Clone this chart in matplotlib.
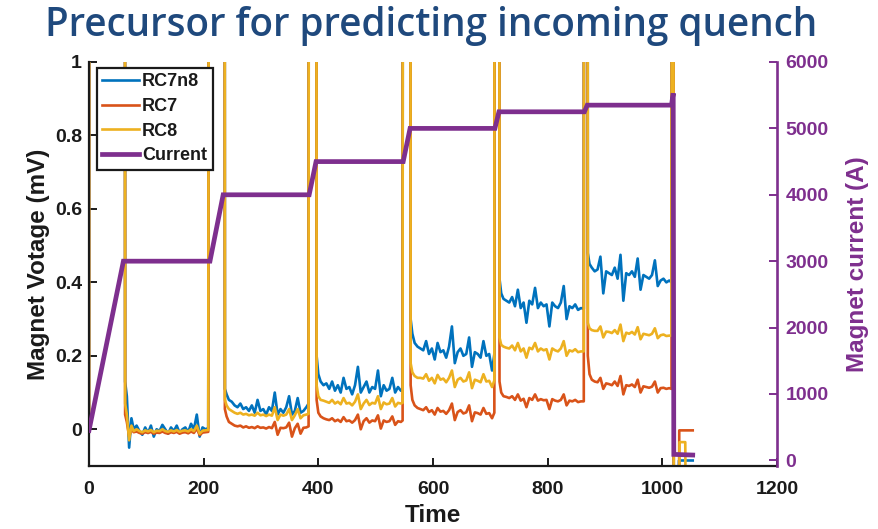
import matplotlib
matplotlib.use("Agg")
import matplotlib.pyplot as plt
from matplotlib import font_manager

# ---------------- data ----------------
OFF = 5.0  # inductive voltage during ramps (off scale)

# current profile (A)
cur_time = [0, 60, 211, 234, 384, 396, 548, 560, 708, 715, 864, 869, 1016, 1019, 1020, 1053]
cur_amp = [450, 3000, 3000, 4000, 4000, 4500, 4500, 5000, 5000, 5250, 5250, 5350, 5350, 5530, 90, 80]

# ramp windows where voltages are off scale
ramp_start = [1, 211, 384, 548, 708, 864]
ramp_end = [62, 236, 396, 560, 715, 869]

t0 = [0]
rc7n8_0 = [0.01]
rc7_0 = [0.0]
rc8_0 = [0.02]

t_p1 = [63, 66, 70, 74, 78, 83, 88, 93, 98, 103, 108, 113, 118, 123, 128, 133,
        138, 143, 148, 153, 158, 163, 168, 173, 178, 183, 188, 193, 198, 203, 208]
rc7n8_p1 = [0.13, 0.09, -0.05, 0.03, 0.0, 0.01, -0.005, -0.015, 0.005, -0.01, 0.01,
            -0.02, 0.0, -0.005, 0.012, 0.0, -0.012, 0.005, -0.005, 0.01, -0.01, 0.0,
            0.005, -0.008, 0.015, 0.0, 0.04, -0.02, 0.005, 0.0, 0.003]
rc7_p1 = [0.04, 0.02, -0.02, 0.0, -0.008, -0.006, -0.01, -0.012, -0.008, -0.01, -0.007,
          -0.012, -0.009, -0.01, -0.006, -0.01, -0.012, -0.008, -0.01, -0.007, -0.012,
          -0.009, -0.008, -0.011, -0.006, -0.01, 0.002, -0.016, -0.009, -0.008, -0.007]
rc8_p1 = [0.07, 0.04, -0.03, 0.01, -0.005, 0.0, -0.005, -0.008, -0.003, -0.006, -0.002,
          -0.008, -0.004, -0.005, 0.0, -0.005, -0.007, -0.003, -0.006, -0.002, -0.007,
          -0.004, -0.003, -0.006, 0.0, -0.005, 0.01, -0.012, -0.004, -0.003, -0.002]

t_p2 = [237, 240, 244, 249, 254, 259, 264, 269, 274, 279, 284, 289, 294, 299, 304, 309,
        314, 319, 324, 329, 334, 339, 344, 349, 354, 359, 364, 369, 374, 379, 383]
rc7n8_p2 = [0.11, 0.095, 0.08, 0.075, 0.065, 0.06, 0.07, 0.055, 0.06, 0.05, 0.065, 0.045,
            0.08, 0.05, 0.055, 0.04, 0.06, 0.05, 0.1, 0.04, 0.055, 0.045, 0.06, 0.09, 0.04,
            0.05, 0.085, 0.045, 0.05, 0.06, 0.07]
rc7_p2 = [0.055, 0.035, 0.02, 0.015, 0.01, 0.008, 0.01, 0.005, 0.008, 0.004, 0.006, 0.003,
          0.008, 0.004, 0.005, 0.002, 0.006, 0.003, 0.02, -0.015, 0.004, 0.003, 0.005, 0.018,
          -0.02, 0.003, 0.015, -0.012, 0.004, 0.005, 0.008]
rc8_p2 = [0.08, 0.065, 0.055, 0.05, 0.045, 0.042, 0.045, 0.04, 0.042, 0.038, 0.04, 0.037,
          0.045, 0.038, 0.04, 0.036, 0.04, 0.037, 0.06, 0.025, 0.04, 0.037, 0.04, 0.055,
          0.025, 0.038, 0.055, 0.03, 0.038, 0.04, 0.042]

t_p3 = [397, 400, 404, 409, 414, 419, 424, 429, 434, 439, 444, 449, 454, 459, 464, 469,
        474, 479, 484, 489, 494, 499, 504, 509, 514, 519, 524, 529, 534, 539, 544, 547]
rc7n8_p3 = [0.2, 0.15, 0.13, 0.12, 0.125, 0.11, 0.13, 0.105, 0.12, 0.1, 0.14, 0.11, 0.115,
            0.095, 0.12, 0.17, 0.1, 0.115, 0.13, 0.1, 0.115, 0.11, 0.16, 0.09, 0.12, 0.105,
            0.11, 0.14, 0.1, 0.115, 0.105, 0.11]
rc7_p3 = [0.08, 0.045, 0.035, 0.03, 0.027, 0.025, 0.03, 0.022, 0.026, 0.02, 0.033, 0.022,
          0.024, 0.018, 0.025, 0.04, 0.0, 0.022, 0.03, 0.018, 0.024, 0.022, 0.038, 0.002,
          0.024, 0.02, 0.022, 0.035, 0.012, 0.022, 0.02, 0.024]
rc8_p3 = [0.12, 0.09, 0.08, 0.078, 0.075, 0.072, 0.08, 0.07, 0.075, 0.068, 0.085, 0.07,
          0.072, 0.065, 0.075, 0.095, 0.055, 0.07, 0.08, 0.066, 0.072, 0.07, 0.09, 0.055,
          0.073, 0.068, 0.07, 0.085, 0.062, 0.072, 0.07, 0.072]

t_p4 = [561, 564, 568, 573, 578, 583, 588, 593, 598, 603, 608, 613, 618, 623, 628, 633,
        638, 643, 648, 653, 658, 663, 668, 673, 678, 683, 688, 693, 698, 703, 707]
rc7n8_p4 = [0.3, 0.26, 0.235, 0.225, 0.22, 0.215, 0.24, 0.205, 0.22, 0.19, 0.235, 0.21,
            0.215, 0.195, 0.225, 0.28, 0.18, 0.21, 0.22, 0.2, 0.205, 0.25, 0.17, 0.21,
            0.205, 0.195, 0.24, 0.2, 0.205, 0.16, 0.205]
rc7_p4 = [0.12, 0.08, 0.065, 0.058, 0.055, 0.052, 0.06, 0.047, 0.052, 0.04, 0.058, 0.048,
          0.05, 0.042, 0.052, 0.07, 0.025, 0.047, 0.052, 0.043, 0.046, 0.065, 0.022, 0.046,
          0.044, 0.04, 0.058, 0.042, 0.044, 0.03, 0.045]
rc8_p4 = [0.18, 0.155, 0.145, 0.14, 0.14, 0.138, 0.15, 0.132, 0.14, 0.125, 0.148, 0.135,
          0.138, 0.128, 0.14, 0.16, 0.115, 0.135, 0.14, 0.13, 0.133, 0.155, 0.112, 0.135,
          0.132, 0.128, 0.15, 0.13, 0.132, 0.115, 0.133]

t_p5 = [716, 719, 723, 728, 733, 738, 743, 748, 753, 758, 763, 768, 773, 778, 783, 788,
        793, 798, 803, 808, 813, 818, 823, 828, 833, 838, 843, 848, 853, 858, 863]
rc7n8_p5 = [0.41, 0.37, 0.355, 0.35, 0.345, 0.36, 0.335, 0.38, 0.33, 0.345, 0.29, 0.35,
            0.34, 0.385, 0.33, 0.345, 0.335, 0.34, 0.28, 0.345, 0.335, 0.33, 0.345, 0.39,
            0.3, 0.335, 0.33, 0.34, 0.325, 0.33, 0.328]
rc7_p5 = [0.13, 0.1, 0.09, 0.088, 0.085, 0.09, 0.08, 0.095, 0.078, 0.083, 0.06, 0.085,
          0.08, 0.095, 0.078, 0.082, 0.079, 0.08, 0.055, 0.082, 0.078, 0.076, 0.08, 0.095,
          0.065, 0.078, 0.076, 0.08, 0.074, 0.076, 0.076]
rc8_p5 = [0.25, 0.23, 0.225, 0.222, 0.22, 0.228, 0.215, 0.235, 0.212, 0.22, 0.195, 0.222,
          0.218, 0.235, 0.212, 0.22, 0.215, 0.218, 0.19, 0.22, 0.215, 0.212, 0.22, 0.24,
          0.2, 0.215, 0.212, 0.218, 0.21, 0.212, 0.212]

t_p6 = [870, 873, 877, 882, 887, 892, 897, 902, 907, 912, 917, 922, 927, 932, 937, 942,
        947, 952, 957, 962, 967, 972, 977, 982, 987, 992, 997, 1002, 1007, 1012, 1016]
rc7n8_p6 = [0.48, 0.45, 0.44, 0.43, 0.435, 0.47, 0.37, 0.43, 0.425, 0.42, 0.44, 0.41,
            0.475, 0.35, 0.425, 0.42, 0.43, 0.415, 0.465, 0.38, 0.42, 0.415, 0.41, 0.42,
            0.46, 0.39, 0.405, 0.41, 0.4, 0.405, 0.4]
rc7_p6 = [0.2, 0.15, 0.135, 0.13, 0.128, 0.14, 0.11, 0.125, 0.123, 0.12, 0.13, 0.118,
          0.145, 0.095, 0.12, 0.118, 0.122, 0.115, 0.135, 0.1, 0.117, 0.115, 0.113, 0.116,
          0.13, 0.1, 0.112, 0.113, 0.11, 0.112, 0.11]
rc8_p6 = [0.29, 0.275, 0.27, 0.268, 0.268, 0.28, 0.25, 0.266, 0.265, 0.262, 0.27, 0.26,
          0.285, 0.24, 0.263, 0.26, 0.265, 0.258, 0.278, 0.245, 0.26, 0.258, 0.256, 0.26,
          0.275, 0.248, 0.256, 0.258, 0.254, 0.255, 0.255]

# after the quench
tq_rc7n8 = [1018, 1020, 1028, 1029, 1053]
q_rc7n8 = [OFF, -0.3, -0.3, -0.085, -0.085]
tq_rc7 = [1018, 1020, 1029, 1029.5, 1053]
q_rc7 = [OFF, -0.3, -0.3, -0.003, -0.003]
tq_rc8 = [1018, 1020, 1029, 1030, 1040, 1041]
q_rc8 = [OFF, -0.3, -0.3, -0.035, -0.035, -0.3]

# ---------------- assemble ----------------
plateau_t = [t_p1, t_p2, t_p3, t_p4, t_p5, t_p6]


def build(first_t, first_v, plateaus_v, q_t, q_v):
    tt = list(first_t)
    vv = list(first_v)
    for rs, re_, pt, pv in zip(ramp_start, ramp_end, plateau_t, plateaus_v):
        tt += [rs, re_] + pt
        vv += [OFF, OFF] + pv
    tt += q_t
    vv += q_v
    return tt, vv


t_b, v_b = build(t0, rc7n8_0, [rc7n8_p1, rc7n8_p2, rc7n8_p3, rc7n8_p4, rc7n8_p5, rc7n8_p6],
                 tq_rc7n8, q_rc7n8)
t_o, v_o = build(t0, rc7_0, [rc7_p1, rc7_p2, rc7_p3, rc7_p4, rc7_p5, rc7_p6], tq_rc7, q_rc7)
t_y, v_y = build(t0, rc8_0, [rc8_p1, rc8_p2, rc8_p3, rc8_p4, rc8_p5, rc8_p6], tq_rc8, q_rc8)

# ---------------- style ----------------
C_B = "#0072BD"
C_O = "#D95319"
C_Y = "#EDB120"
C_P = "#7E2F8E"
TITLE_C = "#1F497D"
INK = "#1a1a1a"

names = {f.name for f in font_manager.fontManager.ttflist}
base_font = "Liberation Sans" if "Liberation Sans" in names else "DejaVu Sans"
title_font = "Open Sans" if "Open Sans" in names else base_font
plt.rcParams["font.family"] = [base_font, "DejaVu Sans"]
plt.rcParams["font.weight"] = "bold"

W, H = 879, 529
fig = plt.figure(figsize=(W / 100, H / 100), dpi=100)
L, R, T, B = 89, 777, 62, 466
ax = fig.add_axes([L / W, 1 - B / H, (R - L) / W, (B - T) / H])
ax2 = ax.twinx()

ax.plot(t_b, v_b, color=C_B, lw=1.9, label="RC7n8")
ax.plot(t_o, v_o, color=C_O, lw=1.9, label="RC7")
ax.plot(t_y, v_y, color=C_Y, lw=1.9, label="RC8")
ax2.plot(cur_time, cur_amp, color=C_P, lw=3.4, label="Current", solid_joinstyle="miter")

ax.set_xlim(0, 1200)
ax.set_ylim(-0.1, 1)
ax2.set_ylim(-85, 6000)

ax.set_xticks([0, 200, 400, 600, 800, 1000, 1200])
ax.set_yticks([0, 0.2, 0.4, 0.6, 0.8, 1])
ax.set_yticklabels(["0", "0.2", "0.4", "0.6", "0.8", "1"])
ax2.set_yticks([0, 1000, 2000, 3000, 4000, 5000, 6000])

ax.tick_params(axis="both", direction="in", length=6, width=1.4, labelsize=14, colors=INK)
ax.tick_params(axis="y", pad=5)
ax.tick_params(axis="x", pad=11)
ax2.tick_params(axis="y", direction="in", length=6, width=1.4, labelsize=14, colors=C_P, pad=6)

for s in ("top", "right"):
    ax.spines[s].set_visible(False)
for s in ("top", "left", "bottom"):
    ax2.spines[s].set_visible(False)
ax.spines["left"].set_linewidth(1.6)
ax.spines["bottom"].set_linewidth(1.6)
ax.spines["left"].set_color(INK)
ax.spines["bottom"].set_color(INK)
ax2.spines["right"].set_color(C_P)
ax2.spines["right"].set_linewidth(1.9)

for lab in ax.get_xticklabels() + ax.get_yticklabels() + ax2.get_yticklabels():
    lab.set_fontweight("bold")

ax.set_ylabel("Magnet Votage (mV)", fontsize=17.5, fontweight="bold", color=INK)
ax.yaxis.set_label_coords(-(L - 50) / (R - L), 0.5)
ax.set_xlabel("Time", fontsize=17.5, fontweight="bold", color=INK)
ax.xaxis.set_label_coords(0.5, -(504 - B) / (B - T))
ax2.set_ylabel("Magnet current (A)", fontsize=17.5, fontweight="bold", color=C_P)
ax2.yaxis.set_label_coords(1 + (846 - R) / (R - L), 0.5)

h1, l1 = ax.get_legend_handles_labels()
h2, l2 = ax2.get_legend_handles_labels()
leg = ax2.legend(h1 + h2, l1 + l2, loc="upper left",
                 bbox_to_anchor=((97 - L) / (R - L), (B - 68) / (B - T)),
                 frameon=True, fancybox=False, edgecolor=INK,
                 prop={"weight": "bold", "size": 13}, handlelength=2.0,
                 handletextpad=0.2, labelspacing=0.42, borderpad=0.3,
                 borderaxespad=0.0, framealpha=1)
leg.get_frame().set_linewidth(1.6)
for txt in leg.get_texts():
    txt.set_color(INK)

fig.text(431 / W, 1 - 36 / H, "Precursor for predicting incoming quench",
         ha="center", va="baseline", fontsize=27.8, color=TITLE_C,
         family=[title_font, "DejaVu Sans"], fontweight="semibold")

fig.savefig("out.png", dpi=100)
